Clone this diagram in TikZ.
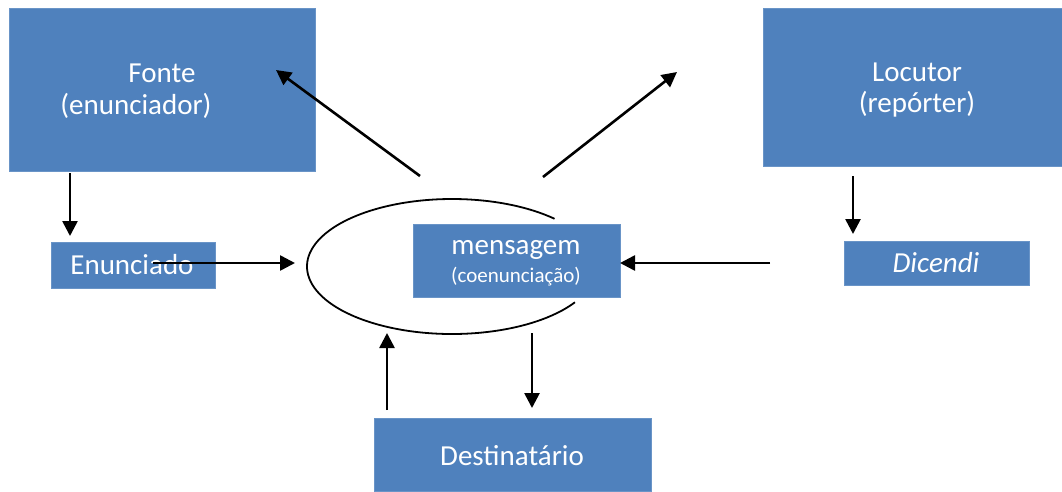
\documentclass[tikz,border=0pt]{standalone}
\usepackage{fontspec}
\setmainfont{Carlito}
\usetikzlibrary{arrows.meta}
\definecolor{boxblue}{HTML}{4F81BD}
\begin{document}
\begin{tikzpicture}[x=1pt,y=-1pt,
  box/.style={fill=boxblue, draw=boxblue!85!white, line width=0.6pt, inner sep=0pt},
  lbl/.style={text=white, inner sep=0pt, font=\fontsize{29}{34}\selectfont},
  small/.style={text=white, inner sep=0pt, font=\fontsize{21}{25}\selectfont},
  arr/.style={line width=2.6pt, -{Triangle[length=15pt,width=15pt]}},
  ell/.style={line width=1.8pt}]
\useasboundingbox (0,0) rectangle (1062,491);
% boxes
\node[box, minimum width=306pt, minimum height=163pt] (fonte) at (162,89.5) {};
\node[lbl] (fontet1) at (162,73) {Fonte};
\node[lbl] (fontet2) at (136,106) {(enunciador)};
\node[box, minimum width=164pt, minimum height=46pt] (enun) at (133,265) {};
\node[lbl] (enunt) at (132,265) {Enunciado};
\node[box, minimum width=207pt, minimum height=73pt] (mens) at (516.5,260.5) {};
\node[lbl] (menst1) at (516,250) {mensagem};
\node[small] (menst2) at (516,277) {(coenunciação)};
\node[box, minimum width=299pt, minimum height=158pt] (loc) at (912.5,87) {};
\node[lbl] (loct1) at (917,72) {Locutor};
\node[lbl] (loct2) at (917,104) {(repórter)};
\node[box, minimum width=185pt, minimum height=44pt] (dic) at (936.5,263) {};
\node[lbl] (dict) at (936,263) {\itshape Dicendi};
\node[box, minimum width=277pt, minimum height=73pt] (dest) at (512.5,454.5) {};
\node[lbl] (destt) at (512,456) {Destinatário};
% ellipse (open on the right)
\coordinate (ec) at (452,266.5);
\draw[ell] (ec) ++(32:145 and 67.5) arc[start angle=32, end angle=315, x radius=145, y radius=67.5];
% connector end points
\coordinate (a1s) at (70,173);   \coordinate (a1e) at (70,236);
\coordinate (a2s) at (153,263);  \coordinate (a2e) at (295,263);
\coordinate (a3s) at (770,263);  \coordinate (a3e) at (620,263);
\coordinate (a4s) at (853,176);  \coordinate (a4e) at (853,234);
\coordinate (a5s) at (420,176);  \coordinate (a5e) at (276,70);
\coordinate (a6s) at (543,177);  \coordinate (a6e) at (677,72);
\coordinate (a7s) at (387,410);  \coordinate (a7e) at (387,333);
\coordinate (a8s) at (532,333);  \coordinate (a8e) at (532,408);
\draw[arr] (a1s) -- (a1e);
\draw[arr] (a2s) -- (a2e);
\draw[arr] (a3s) -- (a3e);
\draw[arr] (a4s) -- (a4e);
\draw[arr] (a5s) -- (a5e);
\draw[arr] (a6s) -- (a6e);
\draw[arr] (a7s) -- (a7e);
\draw[arr] (a8s) -- (a8e);
\end{tikzpicture}
\end{document}
